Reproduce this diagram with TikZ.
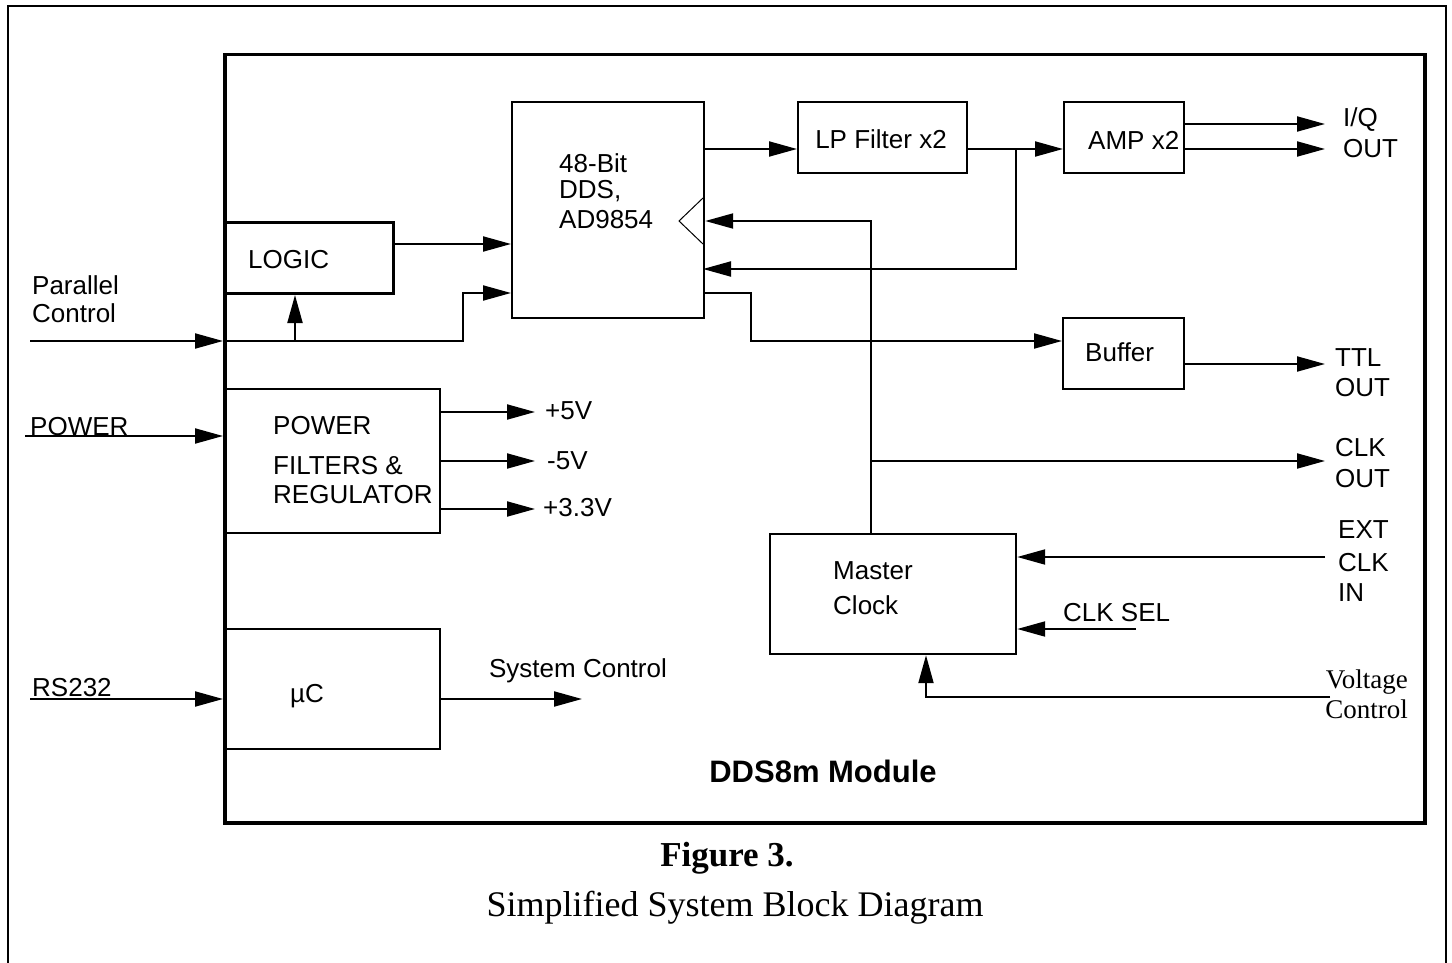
\documentclass[tikz,border=0pt]{standalone}
\usepackage{fontspec}
\setmainfont{Liberation Serif}
\setsansfont{Liberation Sans}
\usetikzlibrary{arrows.meta,calc}
\begin{document}
\begin{tikzpicture}[x=1pt,y=-1pt,
  line/.style={line width=2pt},
  arr/.style={line width=2pt,-{Triangle[length=28pt,width=15pt]}},
  box/.style={draw,line width=2.2pt,inner sep=0pt,anchor=north west},
  lbl/.style={font=\sffamily\fontsize{26}{30}\selectfont,inner sep=0pt,anchor=base west},
  lblc/.style={font=\sffamily\fontsize{26}{30}\selectfont,inner sep=0pt,anchor=base},
  serif/.style={font=\rmfamily\fontsize{27}{30}\selectfont,inner sep=0pt,anchor=base east},
  ]
\useasboundingbox (0,0) rectangle (1452,963);
% outer frame (open at bottom)
\draw[line width=2.2pt] (8,963) -- (8,6) -- (1446,6) -- (1446,963);
% boxes
\node[box,line width=3.5pt,minimum width=1200pt,minimum height=768pt] (module) at (223,53) {};
\node[box,line width=3pt,minimum width=169pt,minimum height=71pt] (logic) at (223,221) {};
\node[box,minimum width=192pt,minimum height=216pt] (dds) at (511,101) {};
\node[box,minimum width=169pt,minimum height=71pt] (lpf) at (797,101) {};
\node[box,minimum width=120pt,minimum height=71pt] (amp) at (1063,101) {};
\node[box,minimum width=121pt,minimum height=71pt] (buf) at (1062,317) {};
\node[box,minimum width=216pt,minimum height=144pt] (pwr) at (223,388) {};
\node[box,minimum width=216pt,minimum height=120pt] (uc) at (223,628) {};
\node[box,minimum width=246pt,minimum height=120pt] (mclk) at (769,533) {};
% clock input triangle
\draw[line width=1pt] (703,198) -- (679,221) -- (703,244);
% box texts
\node[lbl] (tlogic) at (248,268.5) {LOGIC};
\node[lbl] (tdds1) at (559,172) {48-Bit};
\node[lbl] (tdds2) at (559,198) {DDS,};
\node[lbl] (tdds3) at (559,229) {AD9854};
\node[lblc] (tlpf) at (881,148.5) {LP Filter x2};
\node[lbl] (tamp) at (1088,149.5) {AMP x2};
\node[lbl] (tbuf) at (1085,361.5) {Buffer};
\node[lbl] (tpwr1) at (273,434.5) {POWER};
\node[lbl] (tpwr2) at (273,474.5) {FILTERS \&};
\node[lbl] (tpwr3) at (273,503.5) {REGULATOR};
\node[lbl] (tuc) at (290,702.5) {µC};
\node[lbl] (tmc1) at (833,579.5) {Master};
\node[lbl] (tmc2) at (833,614.5) {Clock};
% outside labels
\node[lbl] (tpar1) at (32,294.5) {Parallel};
\node[lbl] (tpar2) at (32,322.5) {Control};
\node[lbl] (tpow) at (30,435.5) {POWER};
\node[lbl] (trs) at (32,696.5) {RS232};
\node[lbl] (tv1) at (545,419.5) {+5V};
\node[lbl] (tv2) at (547,469.5) {-5V};
\node[lbl] (tv3) at (543,516.5) {+3.3V};
\node[lblc] (tsys) at (578,677.5) {System Control};
\node[lbl] (tiq1) at (1343,126.5) {I/Q};
\node[lbl] (tiq2) at (1343,157.5) {OUT};
\node[lbl] (tttl1) at (1335,366.5) {TTL};
\node[lbl] (tttl2) at (1335,396.5) {OUT};
\node[lbl] (tclk1) at (1335,456.5) {CLK};
\node[lbl] (tclk2) at (1335,487.5) {OUT};
\node[lbl] (text1) at (1338,538.5) {EXT};
\node[lbl] (text2) at (1338,571.5) {CLK};
\node[lbl] (text3) at (1338,601.5) {IN};
\node[lbl] (tsel) at (1063,621.5) {CLK SEL};
\node[serif] (tvc1) at (1408,688) {Voltage};
\node[serif] (tvc2) at (1408,718) {Control};
\node[font=\sffamily\bfseries\fontsize{31}{34}\selectfont,inner sep=0pt,anchor=base] (tmod) at (823,782) {DDS8m Module};
\node[font=\rmfamily\bfseries\fontsize{35}{40}\selectfont,inner sep=0pt,anchor=base] (tfig) at (727,866.5) {Figure 3.};
\node[font=\rmfamily\fontsize{36}{40}\selectfont,inner sep=0pt,anchor=base] (tcap) at (735,916) {Simplified System Block Diagram};
% connector coordinates
\coordinate (pc) at (30,341);
\coordinate (pcb) at (295,341);
\coordinate (pcj) at (463,293);
\coordinate (l1) at (392,244);
\coordinate (d1) at (703,149);
\coordinate (lpo) at (966,149);
\coordinate (fb) at (1016,149);
\coordinate (fbe) at (703,269);
\coordinate (iq1) at (1325,124);
\coordinate (iq2) at (1325,149);
\coordinate (ck) at (871,221);
\coordinate (ckout) at (1325,461);
\coordinate (bo) at (703,293);
\coordinate (bj) at (751,341);
\coordinate (ttl) at (1325,364);
\coordinate (pin) at (25,436);
\coordinate (v1) at (535,412);
\coordinate (v2) at (535,461);
\coordinate (v3) at (535,509);
\coordinate (rs) at (30,699);
\coordinate (sys) at (582,699);
\coordinate (ext) at (1325,557);
\coordinate (sel) at (1136,629);
\coordinate (vc) at (1330,697);
\coordinate (vcj) at (926,697);
% connectors
\draw[arr] (l1) -- (l1 -| dds.west);
\draw[arr] (pc) -- (pc -| module.west);
\draw[arr] (pc -| module.west) -| (pcj) -- (pcj -| dds.west);
\draw[arr] (pcb) -- (pcb |- logic.south);
\draw[arr] (d1) -- (d1 -| lpf.west);
\draw[arr] (lpo) -- (lpo -| amp.west);
\draw[arr] (fb) |- (fbe);
\draw[arr] (iq1 -| amp.east) -- (iq1);
\draw[arr] (iq2 -| amp.east) -- (iq2);
\draw[arr] (ck |- mclk.north) -- (ck) -- (ck -| dds.east);
\draw[arr] (ck |- ckout) -- (ckout);
\draw[arr] (bo) -| (bj) -- (bj -| buf.west);
\draw[arr] (ttl -| buf.east) -- (ttl);
\draw[arr] (pin) -- (pin -| module.west);
\draw[arr] (v1 -| pwr.east) -- (v1);
\draw[arr] (v2 -| pwr.east) -- (v2);
\draw[arr] (v3 -| pwr.east) -- (v3);
\draw[arr] (rs) -- (rs -| module.west);
\draw[arr] (sys -| uc.east) -- (sys);
\draw[arr] (ext) -- (ext -| mclk.east);
\draw[arr] (sel) -- (sel -| mclk.east);
\draw[arr] (vc) -- (vcj) -- (vcj |- mclk.south);
\end{tikzpicture}
\end{document}
